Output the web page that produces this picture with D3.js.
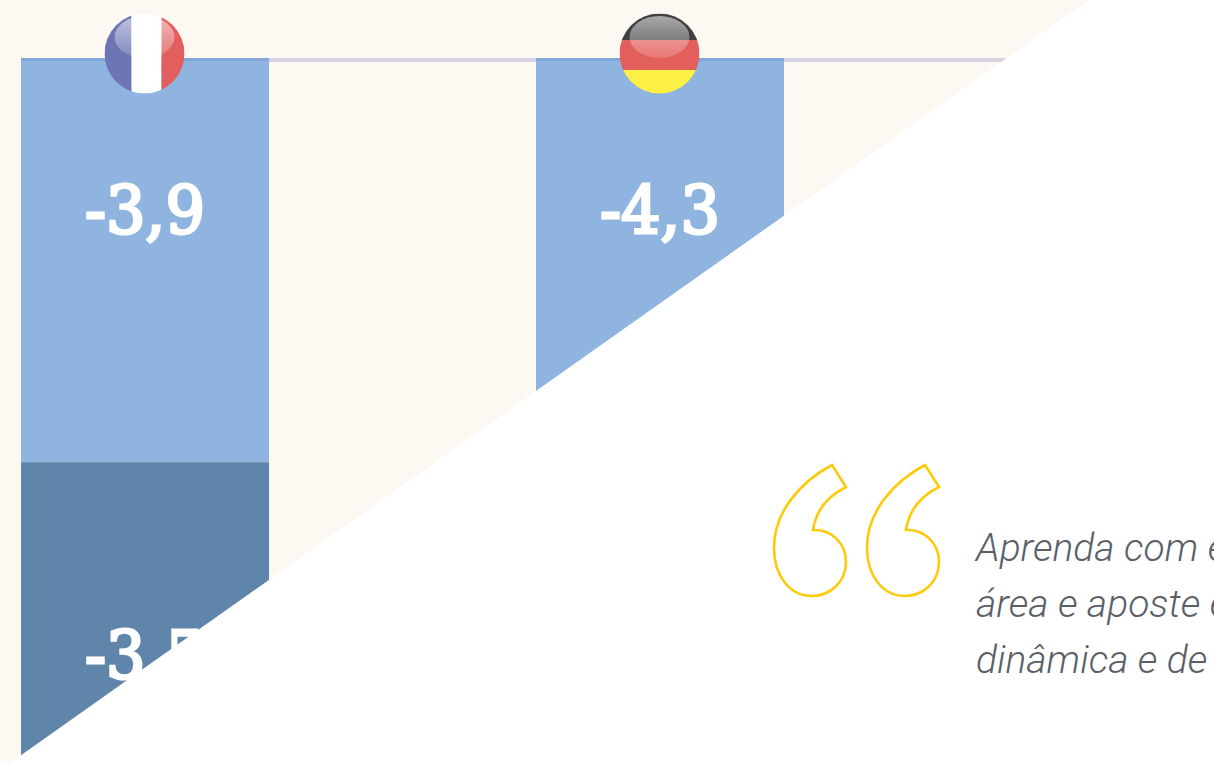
<!DOCTYPE html>
<html>
<head>
<meta charset="utf-8">
<script src="https://cdn.jsdelivr.net/npm/d3@7"></script>
<style>
  html, body { margin: 0; padding: 0; background: #fff; overflow: hidden; }
  svg { display: block; }
</style>
</head>
<body>
<svg id="chart" width="1214" height="763"></svg>
<script>
var countries = ['França', 'Alemanha'];
var upperValues = [-3.9, -4.3];
var lowerValues = [-3.5, null]; // the german one is hidden behind the white corner
var quoteLines = ['Aprenda com e', 'área e aposte e', 'dinâmica e de'];

var franceStripes = ['#6e75b4', '#ffffff', '#e35f5f'];
var germanyStripes = ['#3f3f3f', '#e25f5c', '#fff044'];

var svg = d3.select('#chart');
var W = 1214, H = 763;

var x = d3.scaleBand().domain(countries).range([21, 784]).paddingInner(0.5184).paddingOuter(0);
var y = d3.scaleLinear().domain([0, -7.4]).range([58, 825]);
var fmt = function(v) { return d3.format('.1f')(v).replace('.', ',').replace('−', '-'); };

var defs = svg.append('defs');
defs.append('filter').attr('id', 'soft')
  .append('feGaussianBlur').attr('stdDeviation', 0.45);

var gloss = defs.append('linearGradient').attr('id', 'gloss')
  .attr('x1', 0).attr('y1', 0).attr('x2', 0).attr('y2', 1);
gloss.append('stop').attr('offset', 0).attr('stop-color', '#fff').attr('stop-opacity', 0.55);
gloss.append('stop').attr('offset', 1).attr('stop-color', '#fff').attr('stop-opacity', 0.15);

svg.append('rect').attr('width', W).attr('height', H).attr('fill', '#fdf8f2');

// zero line
svg.append('rect')
  .attr('x', 21).attr('y', y(0)).attr('width', W - 21).attr('height', 4)
  .attr('fill', '#d6d2e2');

var bars = svg.append('g').attr('filter', 'url(#soft)');

bars.selectAll('rect.upper').data(countries).enter().append('rect')
  .attr('class', 'upper')
  .attr('x', function(d) { return x(d); })
  .attr('y', y(0))
  .attr('width', x.bandwidth())
  .attr('height', function(d, i) { return y(upperValues[i]) - y(0); })
  .attr('fill', '#8fb4df');

bars.selectAll('rect.top').data(countries).enter().append('rect')
  .attr('class', 'top')
  .attr('x', function(d) { return x(d); })
  .attr('y', y(0))
  .attr('width', x.bandwidth())
  .attr('height', 3)
  .attr('fill', '#82a6d6');

bars.selectAll('rect.lower').data(countries.filter(function(d, i) { return lowerValues[i] != null; }))
  .enter().append('rect')
  .attr('class', 'lower')
  .attr('x', function(d) { return x(d); })
  .attr('y', function(d) { var i = countries.indexOf(d); return y(upperValues[i]); })
  .attr('width', x.bandwidth())
  .attr('height', function(d) {
    var i = countries.indexOf(d);
    return y(upperValues[i] + lowerValues[i]) - y(upperValues[i]);
  })
  .attr('fill', '#6185aa');

// value labels
var labels = svg.append('g')
  .attr('filter', 'url(#soft)')
  .attr('fill', '#fff')
  .attr('stroke', '#fff')
  .attr('stroke-width', 3)
  .attr('text-anchor', 'middle')
  .attr('font-family', '"DejaVu Serif"')
  .attr('font-weight', 400)
  .attr('font-size', 65);

labels.selectAll('text.upper').data(countries).enter().append('text')
  .attr('class', 'upper')
  .attr('x', function(d) { return x(d) + x.bandwidth() / 2; })
  .attr('y', y(0) + 175)
  .attr('textLength', 120)
  .attr('lengthAdjust', 'spacingAndGlyphs')
  .text(function(d, i) { return fmt(upperValues[i]); });

labels.selectAll('text.lower').data(countries.filter(function(d, i) { return lowerValues[i] != null; }))
  .enter().append('text')
  .attr('class', 'lower')
  .attr('x', function(d) { return x(d) + x.bandwidth() / 2; })
  .attr('y', function(d) { return y(upperValues[countries.indexOf(d)]) + 216; })
  .attr('textLength', 120)
  .attr('lengthAdjust', 'spacingAndGlyphs')
  .text(function(d) { return fmt(lowerValues[countries.indexOf(d)]); });

// flags
function flag(name, stripes, vertical, idx) {
  var r = 40, cy = 53.5;
  var cx = x(name) + x.bandwidth() / 2 - 0.5;
  var g = svg.append('g').attr('filter', 'url(#soft)');
  defs.append('clipPath').attr('id', 'clip' + idx)
    .append('circle').attr('cx', cx).attr('cy', cy).attr('r', r);
  var inner = g.append('g').attr('clip-path', 'url(#clip' + idx + ')');
  if (vertical) {
    var bx = d3.scaleOrdinal().domain([0, 1, 2]).range([cx - r, cx - 13, cx + 17]);
    var bw = d3.scaleOrdinal().domain([0, 1, 2]).range([27, 30, 23]);
    inner.selectAll('rect').data(stripes).enter().append('rect')
      .attr('x', function(d, i) { return bx(i); })
      .attr('y', cy - r).attr('width', function(d, i) { return bw(i); })
      .attr('height', 2 * r).attr('fill', function(d) { return d; });
  } else {
    var by = d3.scaleOrdinal().domain([0, 1, 2]).range([cy - r, 40, 70]);
    var bh = d3.scaleOrdinal().domain([0, 1, 2]).range([27, 30, 24]);
    inner.selectAll('rect').data(stripes).enter().append('rect')
      .attr('x', cx - r).attr('width', 2 * r)
      .attr('y', function(d, i) { return by(i); })
      .attr('height', function(d, i) { return bh(i); })
      .attr('fill', function(d) { return d; });
  }
  // glossy highlight
  inner.append('ellipse')
    .attr('cx', cx).attr('cy', 37).attr('rx', 30).attr('ry', 21)
    .attr('fill', 'url(#gloss)');
}
flag('França', franceStripes, true, 0);
flag('Alemanha', germanyStripes, false, 1);

// white corner over the chart
svg.append('path')
  .attr('d', d3.line()([[1089, 0], [W, 0], [W, H], [10, H]]) + 'Z')
  .attr('fill', '#fff');

// quotation marks
var quoteMark = 'M832,465 L846,487 C828,496 816,510 813,530 C832,529 846,544 846,562 C846,582 830,596 812,596 C790,596 774,576 774,548 C774,512 800,482 832,465 Z';
svg.selectAll('path.q').data([0, 93]).enter().append('path')
  .attr('class', 'q')
  .attr('d', quoteMark)
  .attr('transform', function(d) { return 'translate(' + d + ',0)'; })
  .attr('fill', 'none')
  .attr('stroke', '#fdcb0a')
  .attr('stroke-width', 2.6);

svg.selectAll('text.quote').data(quoteLines).enter().append('text')
  .attr('class', 'quote')
  .attr('x', 976)
  .attr('y', function(d, i) { return 561 + i * 56; })
  .attr('font-family', 'Roboto, sans-serif')
  .attr('font-style', 'italic')
  .attr('font-weight', 300)
  .attr('font-size', 39)
  .attr('fill', '#5b5f68')
  .text(function(d) { return d; });
</script>
</body>
</html>
